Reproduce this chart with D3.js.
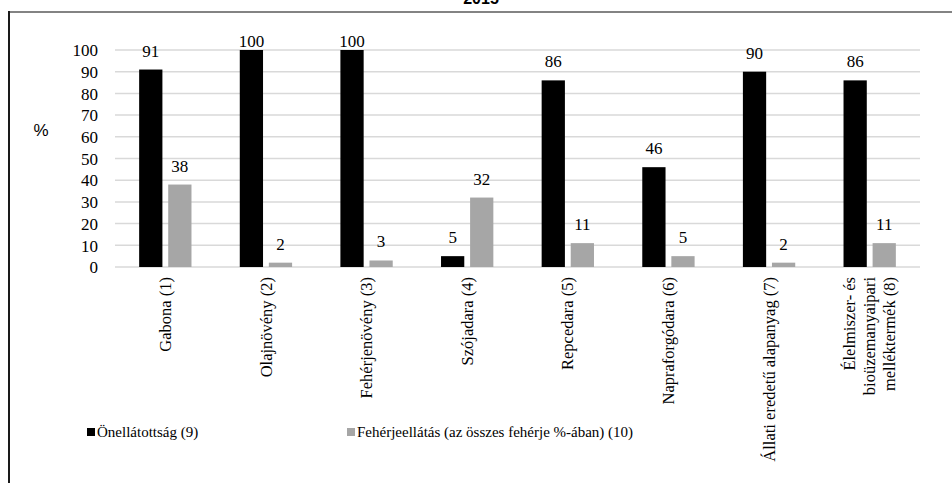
<!DOCTYPE html>
<html>
<head>
<meta charset="utf-8">
<script src="https://cdn.jsdelivr.net/npm/d3@7"></script>
<style>
  html, body { margin: 0; padding: 0; background: #fff; }
  svg { display: block; }
  .serif { font-family: "Liberation Serif", "Times New Roman", Times, "DejaVu Serif", serif; }
  .sans { font-family: "Liberation Sans", Arial, Helvetica, sans-serif; }
</style>
</head>
<body>
<svg id="chart" width="952" height="483"></svg>
<script>
// Categories (line breaks mark wrapped labels)
const categories = [
  "Gabona (1)",
  "Olajnövény (2)",
  "Fehérjenövény (3)",
  "Szójadara (4)",
  "Repcedara (5)",
  "Napraforgódara (6)",
  "Állati eredetű alapanyag (7)",
  "Élelmiszer- és\nbioüzemanyaipari\nmelléktermék (8)"
];
const seriesNames = ["Önellátottság (9)", "Fehérjeellátás (az összes fehérje %-ában) (10)"];
const selfSufficiency = [91, 100, 100, 5, 86, 46, 90, 86];
const proteinSupply = [38, 2, 3, 32, 11, 5, 2, 11];
const yTicks = [0, 10, 20, 30, 40, 50, 60, 70, 80, 90, 100];
const titleText = "2015";

const seriesColors = ["#000000", "#a6a6a6"];

const svg = d3.select("#chart");

// Title (sits above the frame, mostly cropped by the top edge)
svg.append("text")
  .attr("class", "sans")
  .attr("x", 481).attr("y", 4)
  .attr("text-anchor", "middle")
  .style("font-weight", "bold").style("font-size", "16px")
  .text(titleText);

// Frame lines
svg.append("line").attr("x1", 8).attr("x2", 952).attr("y1", 12).attr("y2", 12)
  .attr("stroke", "#5a5a5a").attr("stroke-width", 1.5);
svg.append("line").attr("x1", 9).attr("x2", 9).attr("y1", 11).attr("y2", 483)
  .attr("stroke", "#1a1a1a").attr("stroke-width", 2);

// Scales
const x = d3.scaleBand().domain(d3.range(categories.length)).range([115, 920]).padding(0);
const bw = x.bandwidth();
const xs = d3.scaleBand().domain([0, 1]).range([bw * 0.24, bw * 0.76]).paddingInner(0.2);
const y = d3.scaleLinear().domain([0, 100]).range([267, 50]);

// Gridlines
svg.append("g").selectAll("line").data(yTicks).join("line")
  .attr("x1", 115).attr("x2", 920)
  .attr("y1", d => y(d)).attr("y2", d => y(d))
  .attr("stroke", "#d9d9d9").attr("stroke-width", 1.5);

// Y tick labels
const yAxis = d3.axisLeft(y).tickValues(yTicks).tickSize(0).tickPadding(0);
const yg = svg.append("g").attr("transform", "translate(98,0)").call(yAxis);
yg.attr("font-family", null).attr("font-size", null);
yg.select(".domain").remove();
yg.selectAll("text")
  .attr("class", "serif")
  .style("font-size", "17px").attr("fill", "#000")
  .attr("dy", "0.34em");

// Axis title
svg.append("text")
  .attr("class", "sans")
  .attr("x", 41).attr("y", 136)
  .attr("text-anchor", "middle")
  .style("font-size", "17px")
  .text("%");

// Bars and value labels
const series = [selfSufficiency, proteinSupply];
series.forEach((vals, si) => {
  const g = svg.append("g");
  g.selectAll("rect").data(vals).join("rect")
    .attr("x", (d, i) => x(i) + xs(si))
    .attr("y", d => y(d))
    .attr("width", xs.bandwidth())
    .attr("height", d => y(0) - y(d))
    .attr("fill", seriesColors[si]);
  g.selectAll("text").data(vals).join("text")
    .attr("class", "serif")
    .attr("x", (d, i) => x(i) + xs(si) + xs.bandwidth() / 2)
    .attr("y", d => Math.max(y(d) - 13, 47))
    .attr("text-anchor", "middle")
    .style("font-size", "17px")
    .text(d => d);
});

// Category labels, rotated
const lineGap = 20;
categories.forEach((c, i) => {
  const lines = c.split("\n");
  const cx = x(i) + bw / 2;
  const t = svg.append("text")
    .attr("class", "serif")
    .attr("transform", `translate(${cx},277) rotate(-90)`)
    .attr("text-anchor", "end")
    .style("font-size", "16.5px");
  lines.forEach((ln, k) => {
    t.append("tspan")
      .attr("x", 0)
      .attr("y", (k - (lines.length - 1) / 2) * lineGap)
      .attr("dy", "0.34em")
      .text(ln);
  });
});

// Legend
const legendX = [87, 347];
seriesNames.forEach((name, si) => {
  svg.append("rect")
    .attr("x", legendX[si]).attr("y", 428)
    .attr("width", 8).attr("height", 8)
    .attr("fill", seriesColors[si]);
  svg.append("text")
    .attr("class", "serif")
    .attr("x", legendX[si] + 10).attr("y", 432)
    .attr("dy", "0.34em")
    .style("font-size", "15px")
    .text(name);
});
</script>
</body>
</html>
